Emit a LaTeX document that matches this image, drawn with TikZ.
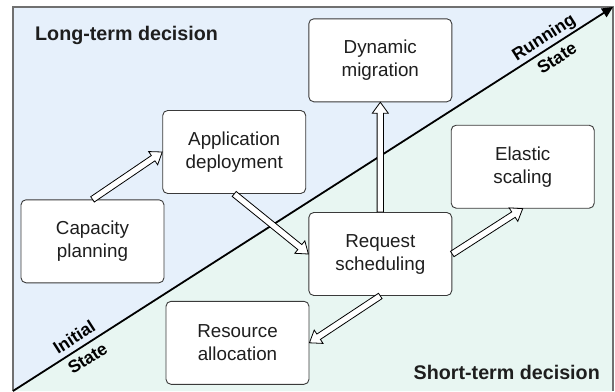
\documentclass[tikz,border=0pt]{standalone}
\usepackage{fontspec}
\setmainfont{Liberation Sans}
\usetikzlibrary{calc,arrows.meta}

\definecolor{longbg}{HTML}{E6F0FB}
\definecolor{shortbg}{HTML}{E8F6F2}
\definecolor{framegray}{HTML}{707070}
\definecolor{boxline}{HTML}{3A3A3A}
\definecolor{inktext}{HTML}{1E1E1E}

\tikzset{
  procbox/.style={draw=boxline, fill=white, rounded corners=5pt, line width=0.9pt,
    minimum width=143pt, minimum height=83pt, align=center, text=inktext,
    font=\fontsize{18.8}{23}\selectfont},
  regiontitle/.style={inner sep=0pt, text=inktext,
    font=\fontsize{19.7}{23}\selectfont\bfseries},
  statelabel/.style={align=center, inner sep=0pt, text=black,
    font=\fontsize{17.5}{25}\selectfont\bfseries},
  fatarrowstyle/.style={draw=black, fill=white, line width=0.8pt, line join=miter},
}

% hollow block arrow from #1 to #2
\newcommand{\fatarrow}[2]{%
  \coordinate (fa-base) at ($(#2)!11pt!(#1)$);
  \path[fatarrowstyle]
    ($(#1)!3.2pt!90:(#2)$) -- ($(fa-base)!3.2pt!90:(#2)$) -- ($(fa-base)!8pt!90:(#2)$)
    -- (#2)
    -- ($(fa-base)!8pt!-90:(#2)$) -- ($(fa-base)!3.2pt!-90:(#2)$) -- ($(#1)!3.2pt!-90:(#2)$)
    -- cycle;
}

\begin{document}
\begin{tikzpicture}[x=1pt, y=-1pt]
  \useasboundingbox (0,0) rectangle (615,391);

  % corners of the frame
  \coordinate (tl) at (13,7);
  \coordinate (tr) at (613,7);
  \coordinate (bl) at (13,391);
  \coordinate (br) at (613,391);

  % the two decision regions
  \fill[longbg] (tl) -- (tr) -- (bl) -- cycle;
  \fill[shortbg] (tr) -- (br) -- (bl) -- cycle;
  \draw[framegray, line width=1.3pt] (bl) -- (tl) -- (tr) -- (br);

  % timeline from initial to running state
  \draw[line width=1.8pt, -{Triangle[length=11pt, width=10pt]}] (bl) -- (tr)
    node[statelabel, sloped, pos=0.113] (initlbl) {Initial\\State}
    node[statelabel, sloped, pos=0.895] (runlbl) {Running\\State};

  \node[regiontitle, anchor=base west] (longlbl) at (35,40) {Long-term decision};
  \node[regiontitle, anchor=base east] (shortlbl) at (600,379) {Short-term decision};

  % decision steps
  \node[procbox] (dm)  at (380.3,60.3)  {Dynamic\\migration};
  \node[procbox] (ad)  at (234.2,152)   {Application\\deployment};
  \node[procbox] (es)  at (522.7,166.7) {Elastic\\scaling};
  \node[procbox] (cap) at (92.5,241.3)  {Capacity\\planning};
  \node[procbox] (rs)  at (380.3,254)   {Request\\scheduling};
  \node[procbox] (ra)  at (237.5,342.8) {Resource\\allocation};

  % flow between steps
  \fatarrow{cap.north}{ad.west}
  \fatarrow{ad.south}{rs.west}
  \fatarrow{rs.north}{dm.south}
  \fatarrow{rs.east}{es.south}
  \fatarrow{rs.south}{ra.east}
\end{tikzpicture}
\end{document}
